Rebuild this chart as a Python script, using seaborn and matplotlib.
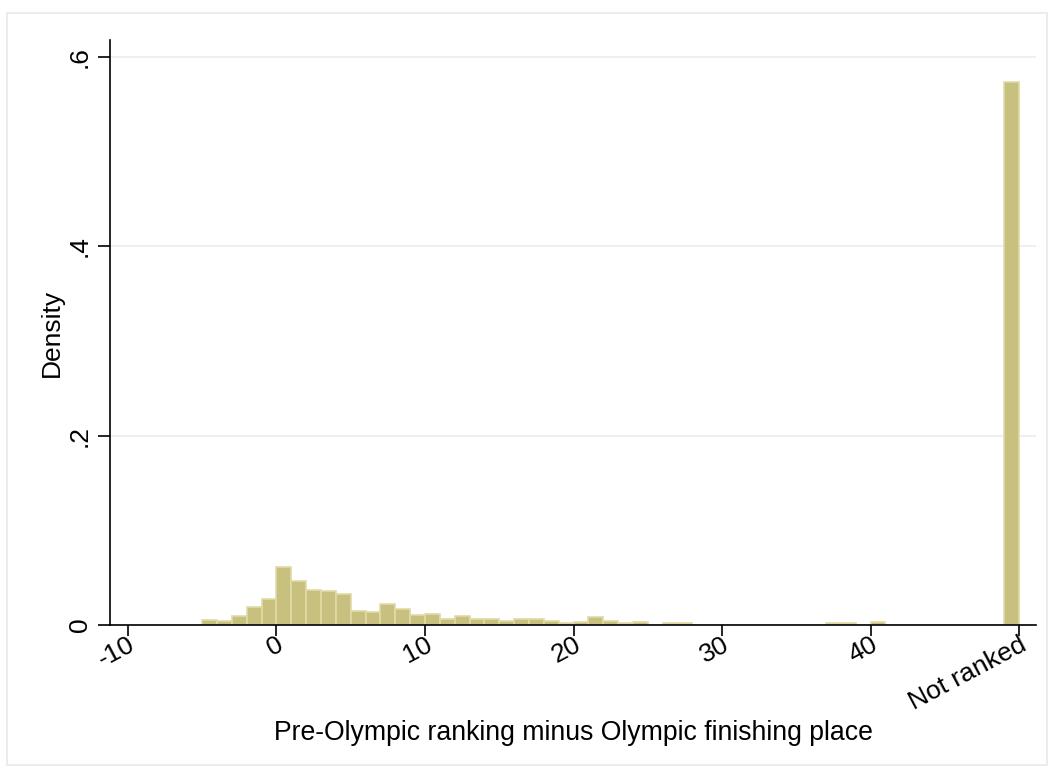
import matplotlib
matplotlib.use("Agg")
import numpy as np
import pandas as pd
import seaborn as sns
import matplotlib.pyplot as plt
from matplotlib.patches import Rectangle

# Histogram bins (left edge, width 1) and their densities
bin_start = list(range(-5, 28)) + [37, 38, 40, 49]
density = [
    0.005, 0.004, 0.010, 0.019, 0.027,
    0.0614, 0.047, 0.037, 0.036, 0.033,
    0.0145, 0.014, 0.022, 0.0166, 0.0105,
    0.012, 0.006, 0.009, 0.0067, 0.0067,
    0.0037, 0.0066, 0.0066, 0.0037, 0.0016,
    0.0027, 0.008, 0.0037, 0.0016, 0.0027,
    0.0, 0.0016, 0.0016,
    0.0016, 0.0016, 0.003,
    0.5735,
]

x_ticks = [-10, 0, 10, 20, 30, 40, 50]
x_tick_labels = ["-10", "0", "10", "20", "30", "40", "Not ranked"]
y_ticks = [0, 0.2, 0.4, 0.6]
y_tick_labels = ["0", ".2", ".4", ".6"]

sns.set_theme(style="white")
plt.rcParams["font.family"] = ["Liberation Sans", "DejaVu Sans"]
plt.rcParams["text.color"] = "black"
plt.rcParams["axes.labelcolor"] = "black"

fig = plt.figure(figsize=(10.54, 7.75), dpi=100)
fig.patch.set_facecolor("white")
fig.add_artist(Rectangle((7 / 1054, 10 / 775), 1040 / 1054, 752 / 775,
                         transform=fig.transFigure, facecolor="none",
                         edgecolor="#e6eaec", linewidth=1.2))

ax = fig.add_axes([110 / 1054, 150 / 775, 926 / 1054, 585 / 775])

df = pd.DataFrame({"diff": np.array(bin_start) + 0.5, "density": density})
sns.histplot(data=df, x="diff", weights="density", binwidth=1,
             binrange=(-5, 50), stat="count", color="#c8c07e",
             edgecolor="#e0dba6", linewidth=1.2, alpha=1, ax=ax)

ax.set_xlim(-11.21, 51.14)
ax.set_ylim(0, 0.618)
ax.yaxis.grid(True, color="#e8eff2", linewidth=1.3)
ax.set_axisbelow(True)

for s in ["top", "right"]:
    ax.spines[s].set_visible(False)
for s in ["left", "bottom"]:
    ax.spines[s].set_color("black")
    ax.spines[s].set_linewidth(1.2)

ax.set_yticks(y_ticks)
ax.set_yticklabels(y_tick_labels, rotation=90, va="center", fontsize=19)
ax.set_xticks(x_ticks)
ax.set_xticklabels(x_tick_labels, rotation=28, ha="right",
                   rotation_mode="anchor", fontsize=19)
ax.tick_params(axis="both", direction="out", length=9, width=1.2,
               color="black", labelcolor="black", bottom=True, left=True)
ax.tick_params(axis="x", length=8, pad=-2.5)
ax.tick_params(axis="y", pad=4)

ax.set_xlabel("Pre-Olympic ranking minus Olympic finishing place",
              fontsize=19.2, labelpad=4)
ax.set_ylabel("Density", fontsize=19, labelpad=3)

fig.savefig("out.png", dpi=100)
